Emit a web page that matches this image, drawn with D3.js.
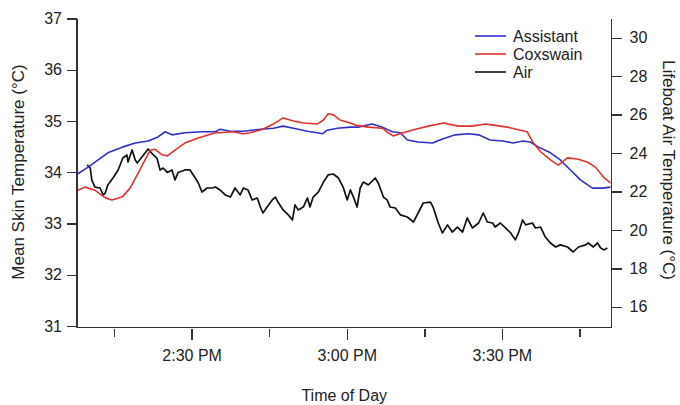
<!doctype html>
<html>
<head>
<meta charset="utf-8">
<script src="https://d3js.org/d3.v7.min.js"></script>
<style>
  body{margin:0;background:#fff;}
  svg text{font-family:"Liberation Sans",Arial,sans-serif;fill:#222;}
  .axis path,.axis line{stroke:#333;stroke-width:1.4px;shape-rendering:crispEdges;}
  .axis text{font-size:16px;}
</style>
</head>
<body>
<svg id="chart" width="680" height="405"></svg>
<script>
// minutes after 2:00 PM, skin temps in °C
var assistantMin = [8.0,10.0,13.8,16.6,19.1,21.6,23.5,24.9,26.2,28.7,32.0,34.6,35.5,37.5,40.0,43.3,45.8,47.7,49.7,52.4,54.3,55.3,56.2,58.2,60.7,62.2,64.9,66.9,68.8,70.4,71.7,73.8,76.6,78.5,81.0,83.5,85.5,87.7,90.2,92.2,94.1,95.5,97.1,99.4,101.3,103.3,105.2,107.5,109.5,111.0];
var assistantTemp = [33.97,34.10,34.38,34.49,34.57,34.61,34.69,34.79,34.73,34.77,34.79,34.79,34.84,34.80,34.80,34.84,34.86,34.90,34.86,34.80,34.77,34.75,34.82,34.86,34.88,34.88,34.94,34.88,34.79,34.77,34.63,34.59,34.57,34.65,34.73,34.75,34.73,34.63,34.61,34.57,34.61,34.59,34.49,34.38,34.24,34.04,33.85,33.69,33.69,33.71];

var coxswainMin = [8.0,9.4,11.3,13.3,14.6,16.6,18.1,19.7,21.0,22.0,22.9,24.3,25.3,26.8,28.7,31.3,34.6,35.5,38.0,40.0,41.3,43.8,45.8,47.7,49.7,51.6,54.3,55.5,56.4,57.4,58.7,60.7,61.7,64.2,66.9,68.0,69.0,70.9,73.3,75.8,78.7,81.6,84.3,86.8,88.4,91.1,93.6,94.9,96.1,97.5,99.4,100.9,102.7,104.6,106.5,108.1,109.6,111.0];
var coxswainTemp = [33.65,33.71,33.65,33.50,33.46,33.52,33.69,33.99,34.24,34.43,34.45,34.34,34.32,34.43,34.57,34.67,34.77,34.77,34.79,34.75,34.77,34.84,34.94,35.06,35.00,34.96,34.94,35.02,35.14,35.12,35.02,34.96,34.92,34.88,34.86,34.77,34.71,34.77,34.84,34.90,34.96,34.90,34.90,34.94,34.92,34.88,34.82,34.79,34.57,34.40,34.24,34.14,34.28,34.26,34.20,34.10,33.91,33.79];

// lifeboat air temperature, °C
var airMin = [9.8,10.4,10.7,11.3,12.3,12.9,13.3,13.8,14.8,15.8,16.7,17.5,17.7,18.5,19.1,19.5,20.4,21.6,22.6,23.3,23.9,24.5,25.3,26.2,26.8,27.4,28.7,29.7,30.7,31.3,32.0,33.0,34.0,34.6,35.5,36.5,37.5,38.4,39.4,40.0,40.9,41.7,42.7,43.3,43.8,44.6,45.6,46.2,46.7,47.7,48.7,49.5,50.0,50.6,51.6,52.4,52.9,53.5,54.5,55.5,56.4,57.4,58.4,59.3,60.1,60.7,61.3,62.0,62.6,63.2,64.2,65.5,66.1,67.1,67.8,68.4,69.4,70.4,71.7,72.9,73.8,74.8,76.2,76.7,77.7,78.5,79.5,80.4,81.4,82.4,83.3,84.3,85.5,86.4,87.2,88.2,88.7,89.7,90.7,91.7,92.6,93.2,94.0,94.6,95.9,96.5,97.5,98.4,99.4,100.4,101.3,102.7,103.8,104.8,106.2,106.7,107.7,108.5,109.1,109.8,110.4];
var airTemp = [23.38,23.22,22.60,22.23,22.18,21.82,21.92,22.34,22.70,23.12,23.74,23.90,23.53,24.16,23.64,23.48,23.79,24.21,23.90,23.74,23.12,23.22,22.99,23.12,22.60,22.99,23.12,23.12,22.70,22.44,21.97,22.18,22.18,22.23,22.08,21.82,21.71,22.18,21.82,22.18,22.08,21.56,21.66,21.19,20.88,21.19,21.56,21.71,21.45,21.04,20.78,20.52,21.30,21.04,21.19,21.66,21.19,21.71,21.97,22.49,22.86,22.91,22.70,22.23,21.56,22.08,21.71,21.19,22.18,22.49,22.34,22.70,22.44,21.71,21.56,21.19,21.14,20.78,20.67,20.41,20.88,21.40,21.45,21.19,20.36,19.84,20.26,19.89,20.15,19.89,20.62,20.10,20.36,20.88,20.41,20.36,20.15,20.36,20.10,19.84,19.48,19.84,20.52,20.26,20.36,20.10,20.15,19.63,19.32,19.11,19.22,19.11,18.85,19.11,19.22,19.32,19.11,19.32,19.06,18.96,19.06];

var xStartMin = 7.84, xEndMin = 111.2;
var xMajorMin = [30,60,90];
var xMinorMin = [15,45,75,105];
var skinTicks = [31,32,33,34,35,36,37];
var airTicks = [16,18,20,22,24,26,28,30];
var legendNames = ['Assistant','Coxswain','Air'];
var legendColors = ['#2f2fcc','#e2302b','#111'];

function toDate(m){ return new Date(new Date(2000,0,1,14,0,0,0).getTime() + m*60000); }

var svg = d3.select('#chart');
var pLeft = 77, pRight = 611.5, pTop = 18.5, pBottom = 326;

var x = d3.scaleTime().domain([toDate(xStartMin),toDate(xEndMin)]).range([pLeft,pRight]);
var ySkin = d3.scaleLinear().domain([31,37]).range([pBottom,pTop]);
var yAir = d3.scaleLinear().domain([15,31]).range([pBottom,pTop]);

// frame bottom line
svg.append('line').attr('x1',pLeft).attr('x2',pRight).attr('y1',pBottom+1.5).attr('y2',pBottom+1.5)
  .style('stroke','#333').style('stroke-width','1.4px').style('shape-rendering','crispEdges');

// left axis
svg.append('g').attr('class','axis').attr('transform','translate('+pLeft+',0)')
  .call(d3.axisLeft(ySkin).tickValues(skinTicks).tickFormat(d3.format('d')).tickSize(10).tickSizeOuter(0).tickPadding(5))
  .select('.domain').attr('d','M0,'+pTop+'V'+(pBottom+1.5));
// right axis
svg.append('g').attr('class','axis').attr('transform','translate('+pRight+',0)')
  .call(d3.axisRight(yAir).tickValues(airTicks).tickFormat(d3.format('d')).tickSize(10).tickSizeOuter(0).tickPadding(8))
  .select('.domain').attr('d','M0,'+pTop+'V'+(pBottom+1.5));

// x axes: major with labels, minor without
var fmt = d3.timeFormat('%-I:%M %p');
var gMajor = svg.append('g').attr('class','axis').attr('transform','translate(0,'+(pBottom+3)+')')
  .call(d3.axisBottom(x).tickValues(xMajorMin.map(toDate)).tickSize(11).tickFormat(fmt).tickPadding(10));
gMajor.select('.domain').remove();
var gMinor = svg.append('g').attr('class','axis').attr('transform','translate(0,'+(pBottom+3)+')')
  .call(d3.axisBottom(x).tickValues(xMinorMin.map(toDate)).tickSize(8).tickFormat(''));
gMinor.select('.domain').remove();

// titles
svg.append('text').attr('x',(pLeft+pRight)/2).attr('y',401).attr('text-anchor','middle')
  .style('font-size','16px').text('Time of Day');
svg.append('text').attr('transform','translate(24,172) rotate(-90)').attr('text-anchor','middle')
  .style('font-size','17px').text('Mean Skin Temperature (°C)');
svg.append('text').attr('transform','translate(663,170) rotate(90)').attr('text-anchor','middle')
  .style('font-size','17px').text('Lifeboat Air Temperature (°C)');

// series
function series(mins,vals,yScale,color,w){
  var pts = mins.map(function(m,i){return [x(toDate(m)), yScale(vals[i])];});
  svg.append('path').datum(pts)
    .attr('d',d3.line())
    .style('fill','none').style('stroke',color).style('stroke-width',w).style('stroke-linejoin','round');
}
series(airMin,airTemp,yAir,legendColors[2],1.7);
series(assistantMin,assistantTemp,ySkin,legendColors[0],1.6);
series(coxswainMin,coxswainTemp,ySkin,legendColors[1],1.6);

// legend
var lg = svg.append('g').attr('transform','translate(475,36)');
legendNames.forEach(function(n,i){
  lg.append('line').attr('x1',0).attr('x2',31).attr('y1',i*18).attr('y2',i*18)
    .style('stroke',legendColors[i]).style('stroke-width',1.6);
  lg.append('text').attr('x',38).attr('y',i*18).attr('dy','0.35em').style('font-size','16px').text(n);
});
</script>
</body>
</html>
